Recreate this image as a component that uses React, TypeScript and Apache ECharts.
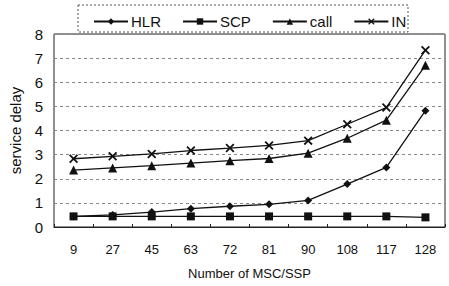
import React, { useEffect, useRef } from "react";
import * as echarts from "echarts";

const categories = ["9", "27", "45", "63", "72", "81", "90", "108", "117", "128"];
const hlr = [0.44, 0.5, 0.62, 0.76, 0.86, 0.94, 1.1, 1.78, 2.47, 4.82];
const scp = [0.44, 0.44, 0.44, 0.44, 0.44, 0.44, 0.44, 0.44, 0.44, 0.4];
const call = [2.36, 2.45, 2.54, 2.65, 2.75, 2.84, 3.06, 3.68, 4.43, 6.7];
const inSeries = [2.83, 2.93, 3.03, 3.17, 3.27, 3.38, 3.58, 4.26, 4.95, 7.33];
const yTicks = [0, 1, 2, 3, 4, 5, 6, 7, 8];

const crossPath =
  "path://M0,1.4L1.4,0L5,3.6L8.6,0L10,1.4L6.4,5L10,8.6L8.6,10L5,6.4L1.4,10L0,8.6L3.6,5Z";

export default function App() {
  const ref = useRef<HTMLDivElement>(null);
  useEffect(() => {
    if (!ref.current) return;
    const chart = echarts.init(ref.current, null, { renderer: "svg" });
    const font = "Liberation Sans, Arial, sans-serif";
    const mk = (name: string, data: number[], symbol: string, size: number) => ({
      name,
      type: "line",
      data,
      symbol,
      symbolSize: size,
      lineStyle: { color: "#111", width: 1.3 },
      itemStyle: { color: "#111" },
      z: 3,
    });
    chart.setOption({
      animation: false,
      backgroundColor: "#fff",
      textStyle: { fontFamily: font },
      graphic: [
        {
          type: "rect",
          shape: { x: 78, y: 5, width: 330, height: 27 },
          style: { fill: "none", stroke: "#555", lineWidth: 1, lineDash: [2, 2] },
          z: 0,
        },
      ],
      legend: {
        top: 9,
        left: 88,
        itemGap: 21,
        itemWidth: 34,
        itemHeight: 8,
        textStyle: { fontFamily: font, fontSize: 15, color: "#111", padding: [0, 0, 0, -2] },
        data: ["HLR", "SCP", "call", "IN"],
      },
      grid: {
        left: 53,
        right: 4,
        top: 34,
        bottom: 59,
        show: true,
        borderColor: "#222",
        borderWidth: 1,
      },
      xAxis: {
        type: "category",
        data: categories,
        boundaryGap: true,
        name: "Number of MSC/SSP",
        nameLocation: "middle",
        nameGap: 40,
        nameTextStyle: { fontFamily: font, fontSize: 13, color: "#111" },
        axisLine: { lineStyle: { color: "#222" } },
        axisTick: { show: true, inside: true, length: 3, lineStyle: { color: "#222" } },
        axisLabel: { fontFamily: font, fontSize: 13, color: "#111", margin: 16 },
      },
      yAxis: {
        type: "value",
        min: yTicks[0],
        max: yTicks[yTicks.length - 1],
        interval: 1,
        name: "service delay",
        nameLocation: "middle",
        nameGap: 31,
        nameTextStyle: { fontFamily: font, fontSize: 15, color: "#111" },
        axisLine: { show: false },
        axisTick: { show: false },
        axisLabel: { fontFamily: font, fontSize: 15, color: "#111", margin: 11 },
        splitLine: { show: true, lineStyle: { color: "#888", type: [3, 3], width: 1 } },
      },
      series: [
        mk("HLR", hlr, "diamond", 8),
        mk("SCP", scp, "rect", 8),
        mk("call", call, "triangle", 9),
        mk("IN", inSeries, crossPath, 9),
      ],
    });
    return () => chart.dispose();
  }, []);
  return (
    <div
      ref={ref}
      style={{ position: "fixed", left: 0, top: 0, width: 449, height: 286, background: "#fff" }}
    />
  );
}
